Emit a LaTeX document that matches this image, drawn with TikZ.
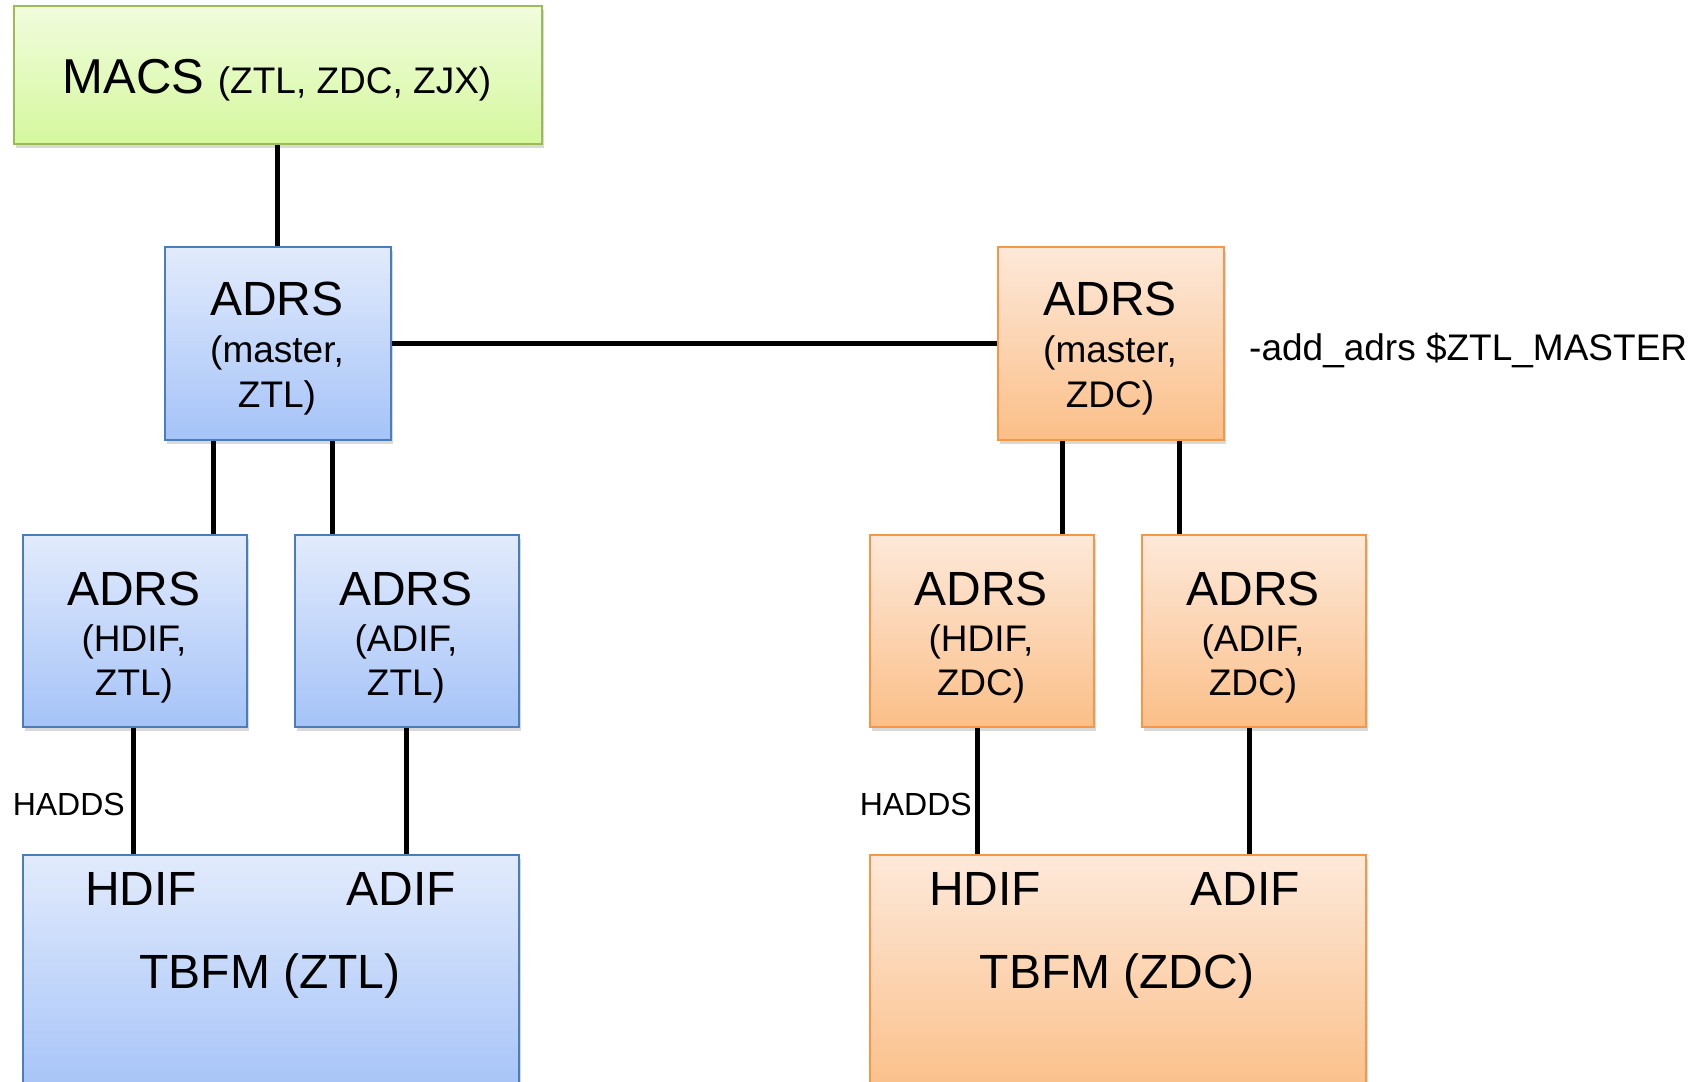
\documentclass[tikz,border=0pt]{standalone}
\usepackage{fontspec}
\setmainfont{Liberation Sans}
\usetikzlibrary{shadows}
\definecolor{bluetop}{HTML}{E2EBFC}
\definecolor{bluebot}{HTML}{A5C3F8}
\definecolor{blueline}{HTML}{4A7EBB}
\definecolor{orangetop}{HTML}{FDE9DA}
\definecolor{orangebot}{HTML}{FBBF88}
\definecolor{orangeline}{HTML}{F79646}
\definecolor{greentop}{HTML}{F1FCDD}
\definecolor{greenbot}{HTML}{D5F89E}
\definecolor{greenline}{HTML}{9BBB59}
\tikzset{
  box/.style={rectangle, anchor=north west, inner sep=0pt, line width=1.8pt,
    drop shadow={opacity=0.3, shadow xshift=2pt, shadow yshift=-4pt}},
  bluebox/.style={box, draw=blueline, top color=bluetop, bottom color=bluebot},
  orangebox/.style={box, draw=orangeline, top color=orangetop, bottom color=orangebot},
  greenbox/.style={box, draw=greenline, top color=greentop, bottom color=greenbot},
  conn/.style={line width=5pt, black},
  bigtxt/.style={font=\fontsize{48}{48}\selectfont, anchor=base, inner sep=0pt},
  subtxt/.style={font=\fontsize{37}{37}\selectfont, anchor=base, inner sep=0pt},
  lbltxt/.style={font=\fontsize{32}{32}\selectfont, anchor=base east, inner sep=0pt},
}
\begin{document}
\begin{tikzpicture}[x=1pt,y=-1pt]
\useasboundingbox (0,0) rectangle (1699,1081);
\clip (0,0) rectangle (1699,1081);
% boxes
\node[greenbox, minimum width=528pt, minimum height=138pt] (macs) at (13,5) {};
\node[bluebox, minimum width=226pt, minimum height=193pt] (mz) at (164,246) {};
\node[orangebox, minimum width=226pt, minimum height=193pt] (md) at (997,246) {};
\node[bluebox, minimum width=224pt, minimum height=192pt] (hz) at (22,534) {};
\node[bluebox, minimum width=224pt, minimum height=192pt] (az) at (294,534) {};
\node[orangebox, minimum width=224pt, minimum height=192pt] (hd) at (869,534) {};
\node[orangebox, minimum width=224pt, minimum height=192pt] (ad) at (1141,534) {};
\node[bluebox, minimum width=496pt, minimum height=240pt] (tz) at (22,854) {};
\node[orangebox, minimum width=496pt, minimum height=240pt] (td) at (869,854) {};
% connectors
\draw[conn] (macs.south) -- (mz.north);
\draw[conn] (mz.east) -- (md.west);
\draw[conn] ([xshift=-64pt]mz.south) -- ([xshift=-64pt]mz.south |- hz.north);
\draw[conn] ([xshift=55pt]mz.south) -- ([xshift=55pt]mz.south |- az.north);
\draw[conn] ([xshift=-48pt]md.south) -- ([xshift=-48pt]md.south |- hd.north);
\draw[conn] ([xshift=69pt]md.south) -- ([xshift=69pt]md.south |- ad.north);
\draw[conn] ([xshift=-1pt]hz.south) -- ([xshift=-1pt]hz.south |- tz.north);
\draw[conn] (az.south) -- (az.south |- tz.north);
\draw[conn] ([xshift=-4pt]hd.south) -- ([xshift=-4pt]hd.south |- td.north);
\draw[conn] ([xshift=-4pt]ad.south) -- ([xshift=-4pt]ad.south |- td.north);
% texts
\node[anchor=base, inner sep=0pt] (tmacs) at (277,93)
  {{\fontsize{49}{49}\selectfont MACS }{\fontsize{37}{37}\selectfont (ZTL, ZDC, ZJX)}};
\node[bigtxt] (tmz1) at (277,315) {ADRS};
\node[subtxt] (tmz2) at (277,362) {(master,};
\node[subtxt] (tmz3) at (277,407) {ZTL)};
\node[bigtxt] (tmd1) at (1110,315) {ADRS};
\node[subtxt] (tmd2) at (1110,362) {(master,};
\node[subtxt] (tmd3) at (1110,407) {ZDC)};
\node[anchor=base west, inner sep=0pt, font=\fontsize{37}{37}\selectfont] (tadd) at (1249,360) {-add\_adrs \$ZTL\_MASTER};
\node[bigtxt] (thz1) at (134,605) {ADRS};
\node[subtxt] (thz2) at (134,651) {(HDIF,};
\node[subtxt] (thz3) at (134,695) {ZTL)};
\node[bigtxt] (taz1) at (406,605) {ADRS};
\node[subtxt] (taz2) at (406,651) {(ADIF,};
\node[subtxt] (taz3) at (406,695) {ZTL)};
\node[bigtxt] (thd1) at (981,605) {ADRS};
\node[subtxt] (thd2) at (981,651) {(HDIF,};
\node[subtxt] (thd3) at (981,695) {ZDC)};
\node[bigtxt] (tad1) at (1253,605) {ADRS};
\node[subtxt] (tad2) at (1253,651) {(ADIF,};
\node[subtxt] (tad3) at (1253,695) {ZDC)};
\node[lbltxt] (hadds1) at (125,815) {HADDS};
\node[lbltxt] (hadds2) at (972,815) {HADDS};
\node[bigtxt] (tz1) at (141,905) {HDIF};
\node[bigtxt] (tz2) at (401,905) {ADIF};
\node[bigtxt] (tz3) at (270,988) {TBFM (ZTL)};
\node[bigtxt] (td1) at (985,905) {HDIF};
\node[bigtxt] (td2) at (1245,905) {ADIF};
\node[bigtxt] (td3) at (1117,988) {TBFM (ZDC)};
\end{tikzpicture}
\end{document}
